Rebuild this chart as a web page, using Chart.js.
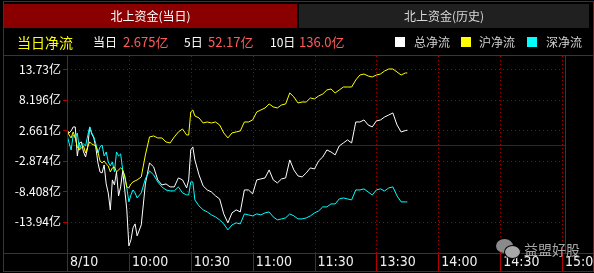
<!DOCTYPE html>
<html>
<head>
<meta charset="utf-8">
<script src="https://cdn.jsdelivr.net/npm/chart.js@4.4.0/dist/chart.umd.min.js"></script>
<style>
html,body{margin:0;padding:0;background:#000;}
#wrap{position:relative;width:594px;height:273px;overflow:hidden;background:#000;font-family:"Noto Sans CJK SC",sans-serif;}
#c{position:absolute;left:0;top:0;}
.frame{position:absolute;left:3px;top:1px;width:589px;height:269px;border:1px solid #b40000;pointer-events:none;}
.tab{position:absolute;top:4px;height:24px;line-height:24px;text-align:center;font-size:12px;}
#tab1{left:4px;width:293px;background:#8a0000;color:#fff;}
#tab2{left:299px;width:290px;background:#202020;color:#d8d8d8;}
.hd{position:absolute;top:33px;height:18px;line-height:18px;font-size:12px;white-space:nowrap;color:#fff;}
.num{color:#ff5a5a;font-size:13px;}
.sq{position:absolute;top:37px;width:10px;height:10px;}
.lg{color:#d0d0d0;}
.wm{position:absolute;left:524px;top:240px;font-size:14px;color:#a8a8a8;line-height:18px;}
.b1{position:absolute;left:496px;top:239px;width:17px;height:14px;border-radius:50%;background:#8a8a8a;}
.b2{position:absolute;left:504px;top:245px;width:15px;height:12px;border-radius:50%;background:#a8a8a8;border:1px solid #000;}
</style>
</head>
<body>
<div id="wrap">
  <canvas id="c" width="594" height="273"></canvas>
  <div class="frame"></div>
  <div class="tab" id="tab1">北上资金(当日)</div>
  <div class="tab" id="tab2">北上资金(历史)</div>
  <div class="hd" style="left:17px;font-size:14px;color:#ffff00;">当日净流</div>
  <div class="hd" style="left:93px;">当日</div>
  <div class="hd num" style="left:123px;">2.675亿</div>
  <div class="hd" style="left:184px;">5日</div>
  <div class="hd num" style="left:208px;">52.17亿</div>
  <div class="hd" style="left:270px;">10日</div>
  <div class="hd num" style="left:299px;">136.0亿</div>
  <div class="sq" style="left:395px;background:#fff;"></div>
  <div class="hd lg" style="left:414px;">总净流</div>
  <div class="sq" style="left:461px;background:#ffff00;"></div>
  <div class="hd lg" style="left:479px;">沪净流</div>
  <div class="sq" style="left:527px;background:#00ffff;"></div>
  <div class="hd lg" style="left:546px;">深净流</div>
  <div class="b1"></div><div class="b2"></div>
  <div class="wm">益盟好股</div>
</div>
<script>
// minutes after 9:30 (lunch break removed)
const minutes = [0,1,2,3,4,5,6,7,8,9,10,11,12,13,14,15,16,17,18,19,20,21,22,23,24,25,26,27,28,29,30,31,32,33,34,
  36,38,40,42,44,46,48,50,52,54,56,58,59,60,61,
  62,64,66,68,70,72,74,76,78,80,82,84,86,88,90,92,94,96,98,100,102,104,106,108,110,112,114,116,118,120,
  122,124,126,128,130,132,134,136,138,140,142,144,146,148,150,152,154,156,158,160,162,164,165];

// 总净流
const totalFlow = [2.72,2.18,2.54,3.27,3.27,-2.00,0.36,0.54,-1.27,-2.18,-0.54,3.27,2.00,1.27,-0.54,-3.27,-4.90,-5.08,-3.63,-7.08,
  -8.71,-11.79,-6.35,-7.26,-4.90,-9.25,-7.62,-4.72,-8.17,-11.79,-18.33,-17.24,-15.06,-14.34,-16.51,
  -14.52,-7.08,-3.27,-3.99,-6.35,-7.26,-7.08,-7.62,-7.62,-5.99,-6.35,-7.80,-6.35,-0.91,-0.36,
  -2.72,-5.44,-7.44,-8.17,-8.53,-9.25,-9.80,-12.52,-14.15,-12.34,-11.79,-12.16,-8.17,-8.17,-8.89,-6.35,-6.17,-5.99,-4.54,-6.35,
  -6.90,-6.17,-5.99,-2.72,-4.54,-5.63,-5.81,-5.08,-4.17,-4.36,-2.90,-2.18,-0.91,-1.27,-1.81,-0.18,0.36,0.91,0.36,4.17,
  4.17,4.54,3.63,3.27,4.36,4.54,5.08,5.44,5.81,3.63,2.36,2.60,2.675];

// 沪净流
const shFlow = [2.72,1.81,1.27,2.36,1.27,-0.36,-0.91,-0.54,-0.18,-1.45,-0.36,0.54,0.18,0,-0.18,-1.27,-2.90,-3.27,-2.90,-3.45,
  -3.81,-4.90,-4.17,-3.99,-4.90,-4.54,-4.17,-4.54,-5.63,-7.62,-7.80,-7.08,-6.71,-6.53,-6.35,
  -5.81,-1.81,1.45,1.63,1.27,1.27,0.54,0.36,1.45,2.36,2.90,1.81,1.81,5.99,6.35,
  5.26,4.90,3.99,4.17,3.99,4.17,3.63,2.18,1.27,2.18,2.36,2.54,4.17,4.17,4.54,5.99,6.35,6.71,7.44,6.90,
  6.71,7.26,7.44,9.44,8.71,7.62,7.80,7.80,8.53,8.35,8.89,9.25,9.98,10.16,9.44,9.98,10.52,10.52,10.52,11.79,
  12.70,12.88,12.52,12.34,12.70,12.88,13.43,13.79,13.79,13.25,12.70,13.07,13.07];

// 深净流
const szFlow = [1.81,0.36,-0.91,1.81,1.27,2.18,-0.91,0.18,0.18,-0.18,1.63,3.27,2.18,1.45,0.18,-1.45,-0.36,0,-2.00,-1.27,
  -3.08,-3.81,-3.08,-4.90,-1.27,-2.00,-1.63,-4.54,-5.81,-7.80,-10.34,-9.07,-8.17,-8.71,-9.62,
  -8.71,-6.17,-4.72,-5.44,-6.71,-7.62,-8.17,-8.35,-8.35,-7.62,-8.71,-9.07,-9.07,-6.71,-6.71,
  -9.98,-11.07,-11.79,-12.16,-12.70,-13.07,-13.61,-14.34,-15.42,-14.52,-14.15,-14.34,-12.52,-12.70,-12.88,-12.52,-12.70,-12.34,-12.16,-13.07,
  -13.61,-13.43,-13.25,-12.52,-12.88,-13.43,-13.43,-13.25,-12.88,-12.34,-11.98,-11.25,-11.25,-10.71,-10.71,-9.80,-9.62,-9.80,-9.98,-8.17,
  -8.17,-7.98,-8.53,-9.07,-8.17,-7.98,-8.35,-7.80,-7.62,-9.25,-10.34,-10.34,-10.34];

const xTickMinutes = [0,30,60,90,120,150,180,210,240];
const xTickLabels = ['8/10','10:00','10:30','11:00','11:30','13:30','14:00','14:30','15:00'];
const yTickValues = [13.73,8.196,2.661,-2.874,-8.408,-13.94];
const yTickLabels = ['13.73亿','8.196亿','2.661亿','-2.874亿','-8.408亿','-13.94亿'];

function pts(vals){ return minutes.map((m,i) => ({x:m, y:vals[i]})); }

function seg(ctx, x1, y1, x2, y2){ ctx.beginPath(); ctx.moveTo(x1,y1); ctx.lineTo(x2,y2); ctx.stroke(); }

const gridPlugin = {
  id: 'grid',
  beforeDatasetsDraw(chart){
    const {ctx, chartArea:a, scales:{x, y}} = chart;
    ctx.save();
    ctx.lineWidth = 1;
    ctx.strokeStyle = '#a00000';
    ctx.setLineDash([1,3]);
    const lastX = Math.round(x.getPixelForValue(240)) + 0.5;
    yTickValues.forEach(v => {
      const py = Math.round(y.getPixelForValue(v)) + 0.5;
      seg(ctx, a.left, py, lastX, py);
    });
    xTickMinutes.slice(1).forEach(m => {
      const px = Math.round(x.getPixelForValue(m)) + 0.5;
      seg(ctx, px, a.top, px, a.bottom);
    });
    ctx.setLineDash([]);
    ctx.strokeStyle = '#8c0000';
    const zy = Math.round(y.getPixelForValue(0)) + 0.5;
    seg(ctx, a.left, zy, a.right, zy);
    ctx.restore();
  },
  afterDraw(chart){
    const {ctx, chartArea:a, scales:{x, y}} = chart;
    ctx.save();
    ctx.lineWidth = 1;
    ctx.strokeStyle = '#b40000';
    const left = Math.round(a.left) + 0.5;
    const right = Math.round(a.right) + 0.5;
    const top = Math.round(a.top) - 0.5;
    const bottom = Math.round(a.bottom) + 0.5;
    seg(ctx, 3, top, 593, top);
    seg(ctx, left, top, left, 271);
    seg(ctx, right, top, right, bottom);
    seg(ctx, 3, bottom, 593, bottom);
    xTickMinutes.forEach(m => {
      const px = Math.round(x.getPixelForValue(m)) + 0.5;
      seg(ctx, px, bottom, px, 271);
    });
    yTickValues.forEach(v => {
      const py = Math.round(y.getPixelForValue(v)) + 0.5;
      seg(ctx, a.left - 4, py, a.left, py);
    });
    // labels
    ctx.fillStyle = '#ffffff';
    ctx.font = '12px "Noto Sans CJK SC"';
    ctx.textAlign = 'right';
    ctx.textBaseline = 'middle';
    yTickValues.forEach((v, i) => {
      ctx.fillText(yTickLabels[i], 61, y.getPixelForValue(v));
    });
    ctx.fillStyle = '#f0f0f0';
    ctx.font = '14px "Liberation Sans Narrow", "DejaVu Sans Condensed", sans-serif';
    ctx.textAlign = 'left';
    xTickMinutes.forEach((m, i) => {
      ctx.fillText(xTickLabels[i], x.getPixelForValue(m) + 3, 262.5);
    });
    ctx.restore();
  }
};

new Chart(document.getElementById('c').getContext('2d'), {
  type: 'line',
  data: {
    datasets: [
      { label: '沪净流', data: pts(shFlow), borderColor: '#ffff00' },
      { label: '深净流', data: pts(szFlow), borderColor: '#00ffff' },
      { label: '总净流', data: pts(totalFlow), borderColor: '#ffffff' }
    ]
  },
  options: {
    responsive: false,
    animation: false,
    layout: { padding: { left: 67, right: 29, top: 56, bottom: 20 } },
    plugins: { legend: { display: false }, tooltip: { enabled: false } },
    elements: { point: { radius: 0 }, line: { borderWidth: 1, tension: 0 } },
    scales: {
      x: { type: 'linear', min: 0, max: 241.45, display: false },
      y: { min: -19.62, max: 16.15, display: false }
    }
  },
  plugins: [gridPlugin]
});
</script>
</body>
</html>
